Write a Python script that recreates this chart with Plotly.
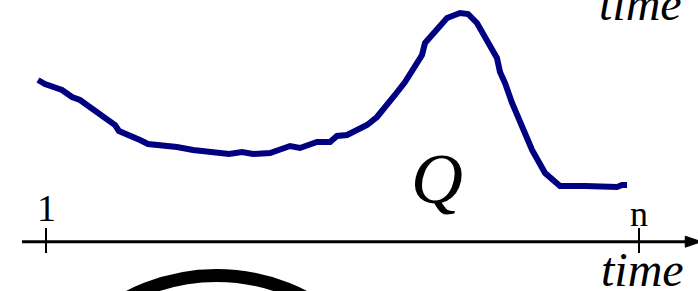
import plotly.graph_objects as go

# time index (1 .. n, n = 60) and quantity Q
time_vals = [0.20, 0.90, 2.59, 3.59, 4.38, 5.88, 6.97, 7.87, 8.26, 9.36, 10.35, 11.15,
             12.34, 14.03, 15.63, 17.62, 19.21, 20.50, 21.60, 23.29, 25.28, 26.27,
             27.96, 29.26, 29.95, 30.95, 32.24, 32.94, 33.93, 34.73, 35.72, 36.72,
             37.52, 38.41, 38.71, 39.70, 40.90, 42.19, 42.99, 43.88, 45.18, 45.87,
             46.17, 46.67, 47.37, 48.16, 49.36, 50.65, 52.14, 54.63, 57.81, 58.31, 58.81]
q_vals = [16.17, 15.77, 15.17, 14.47, 14.17, 13.17, 12.37, 11.67, 11.07, 10.67, 10.17, 9.77,
          9.67, 9.47, 9.17, 8.87, 8.77, 8.97, 8.77, 8.87, 9.57, 9.37,
          9.97, 9.97, 10.57, 10.67, 11.27, 11.67, 12.47, 13.37, 14.67, 15.97,
          17.17, 18.67, 19.87, 20.97, 22.37, 22.87, 22.77, 21.87, 19.47, 18.37,
          16.97, 15.87, 13.87, 11.87, 9.17, 6.87, 5.57, 5.57, 5.47, 5.67, 5.67]

tick_positions = [1, 60]
tick_labels = ["1", "n"]
axis_title = "time"
series_label = "Q"

X_RANGE = [-3.577, 65.87]
Y_RANGE = [-4.93, 24.17]

fig = go.Figure()
fig.add_trace(go.Scatter(x=time_vals, y=q_vals, mode="lines",
                         line=dict(color="#000080", width=6, shape="linear"),
                         hoverinfo="skip", showlegend=False))

shapes = []
# horizontal time axis
shapes.append(dict(type="line", xref="x", yref="y", x0=-1.39, x1=64.9, y0=0, y1=0,
                   line=dict(color="black", width=3)))
# arrowhead
shapes.append(dict(type="path", xref="x", yref="y",
                   path="M 64.6,0.55 L 66.2,0 L 64.6,-0.55 Z",
                   fillcolor="black", line=dict(color="black", width=1)))
# ticks
for tp in tick_positions:
    shapes.append(dict(type="line", xref="x", yref="y", x0=tp, x1=tp, y0=1.37, y1=-1.13,
                       line=dict(color="black", width=2)))
# decorative circle (partially visible at the bottom)
shapes.append(dict(type="circle", xref="x", yref="y", x0=-0.99, x1=36.92, y0=-3.38, y1=-41.58,
                   line=dict(color="black", width=13)))

serif = "Liberation Serif"
annotations = []
annotations.append(dict(x=tick_positions[0], y=3.35, text=tick_labels[0], showarrow=False,
                        xanchor="center", yanchor="middle",
                        font=dict(family=serif, size=38, color="black")))
annotations.append(dict(x=tick_positions[1], y=2.8, text=tick_labels[1], showarrow=False,
                        xanchor="center", yanchor="middle",
                        font=dict(family=serif, size=36, color="black")))
annotations.append(dict(x=60.3, y=-2.8, text="<i>" + axis_title + "</i>", showarrow=False,
                        xanchor="center", yanchor="middle",
                        font=dict(family=serif, size=48, color="black")))
annotations.append(dict(x=60.1, y=23.8, text="<i>" + axis_title + "</i>", showarrow=False,
                        xanchor="center", yanchor="middle",
                        font=dict(family=serif, size=48, color="black")))
annotations.append(dict(x=39.95, y=6.3, text="<i>" + series_label + "</i>", showarrow=False,
                        xanchor="center", yanchor="middle",
                        font=dict(family=serif, size=72, color="black")))

fig.update_layout(
    width=698, height=291,
    margin=dict(l=0, r=0, t=0, b=0, pad=0),
    paper_bgcolor="white", plot_bgcolor="white",
    xaxis=dict(range=X_RANGE, visible=False, fixedrange=True),
    yaxis=dict(range=Y_RANGE, visible=False, fixedrange=True),
    shapes=shapes, annotations=annotations,
    showlegend=False,
)

fig.write_html("out.html", config={"displayModeBar": False},
               post_script="document.body.style.margin='0';document.body.style.padding='0';"
                           "document.body.style.overflow='hidden';")
